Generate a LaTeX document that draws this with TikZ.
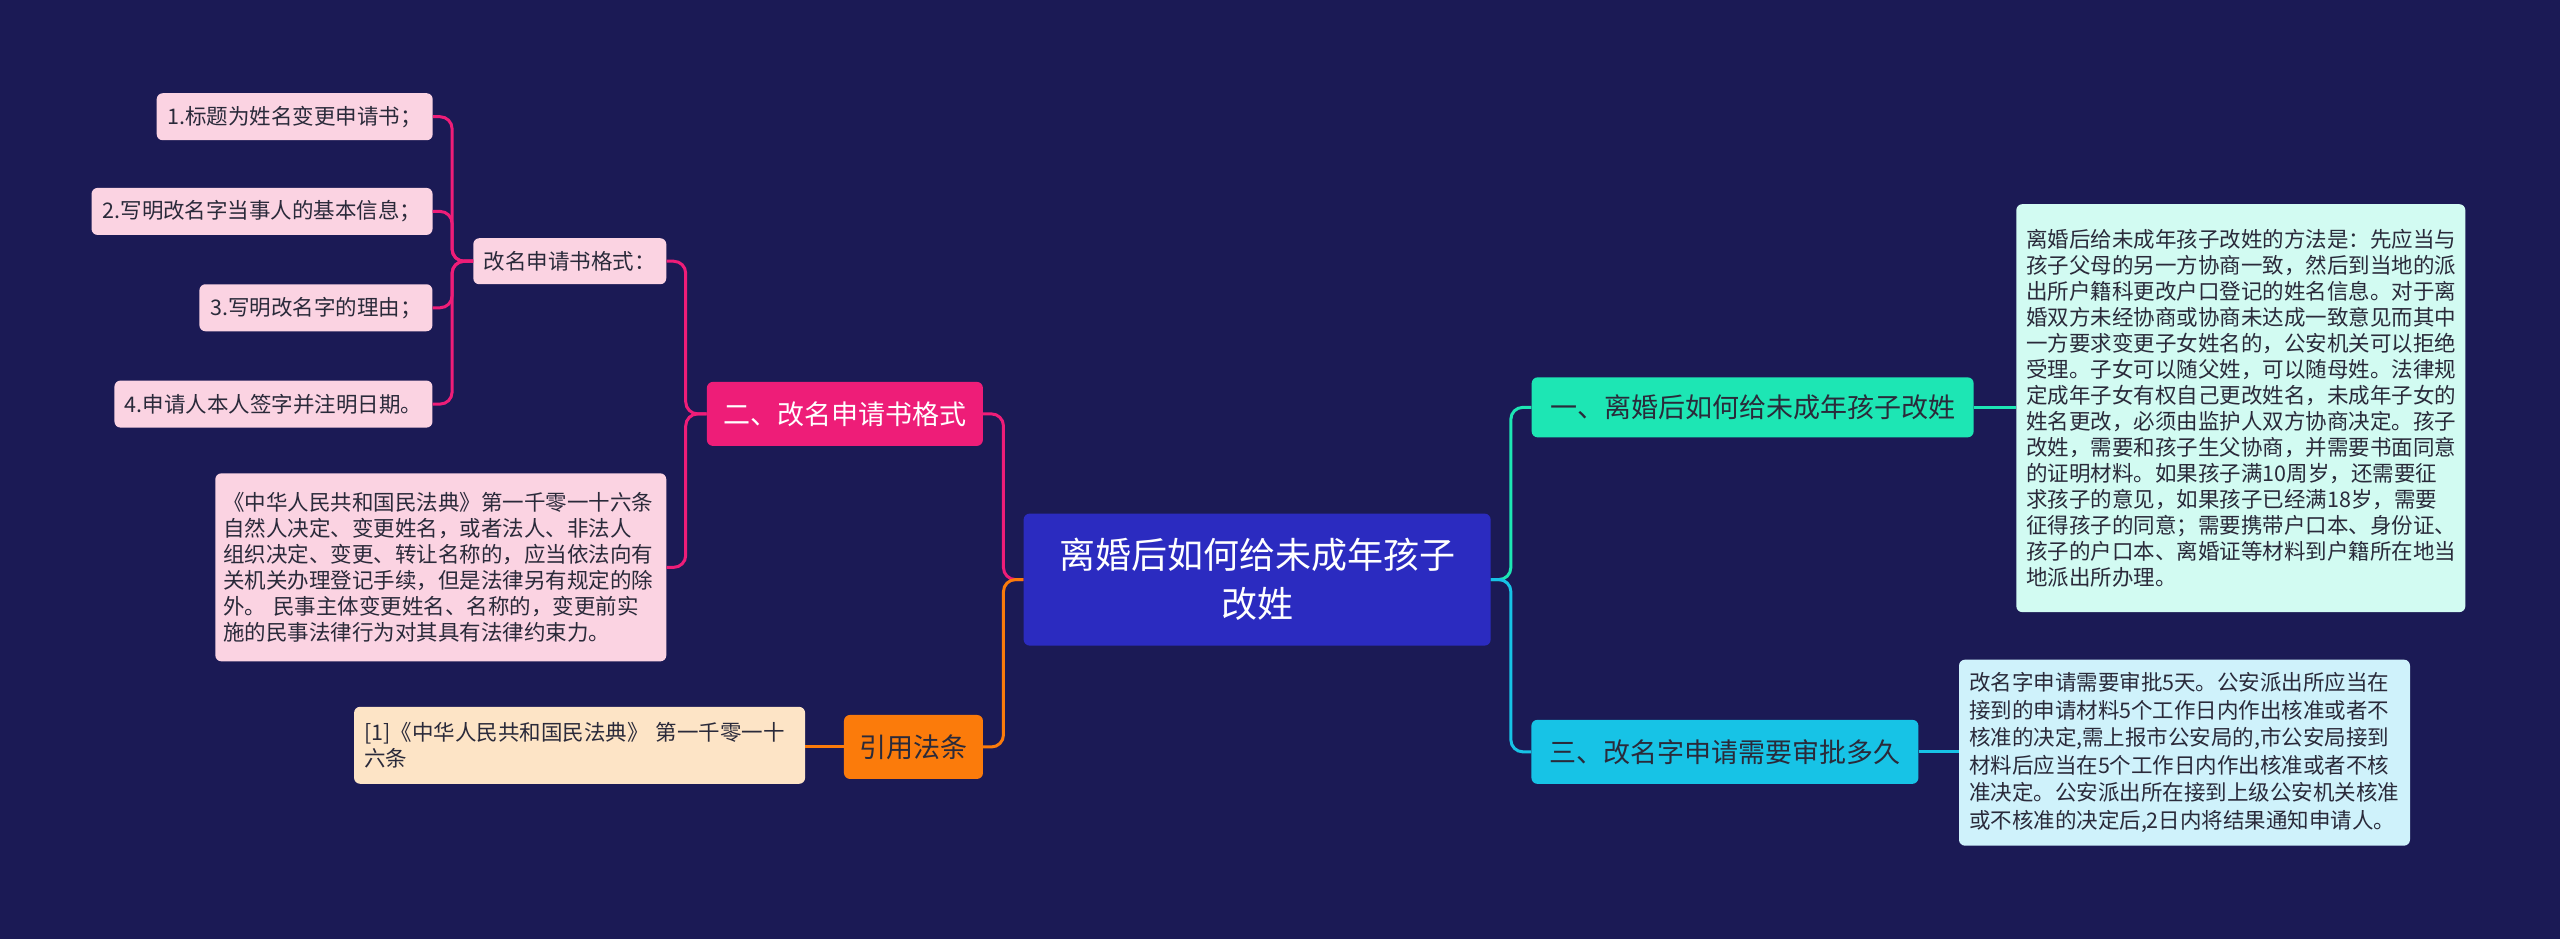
\documentclass[tikz,border=0pt]{standalone}
\usepackage{fontspec}
\setmainfont{Noto Sans CJK SC}
\definecolor{bgcol}{HTML}{1B1A55}
\definecolor{rootcol}{HTML}{2B2BC0}
\definecolor{tealcol}{HTML}{1DE6B4}
\definecolor{cyancol}{HTML}{17C3E6}
\definecolor{pinkcol}{HTML}{EE1D78}
\definecolor{orangecol}{HTML}{FB7B0B}
\definecolor{tealleaf}{HTML}{D2FBF2}
\definecolor{cyanleaf}{HTML}{CFF2FB}
\definecolor{pinkleaf}{HTML}{FBD3E2}
\definecolor{orangeleaf}{HTML}{FDE4C6}
\definecolor{inkcol}{HTML}{2A2A3A}
\tikzset{
  box/.style = {rounded corners=6pt, inner sep=0pt, align=center},
  leaf/.style = {box, text=inkcol, font=\fontsize{21.5}{26}\selectfont},
  branch/.style = {box, font=\fontsize{27}{32}\selectfont},
  link/.style = {line width=3pt, rounded corners=12pt},
}
\begin{document}
\begin{tikzpicture}[x=1.6327pt,y=-1.6327pt]
\fill[bgcol] (0,0) rectangle (1568,575);
% root
\node[box, fill=rootcol, text=white, minimum width=467pt, minimum height=132pt,
  font=\fontsize{36}{49}\selectfont] (root) at (770,355) {离婚后如何给未成年孩子\\改姓};
% right side
\node[branch, fill=tealcol, text=inkcol, minimum width=442pt, minimum height=60pt] (b1) at (1073.5,249.5) {一、离婚后如何给未成年孩子改姓};
\node[leaf, fill=tealleaf, minimum width=449pt, minimum height=408pt, text width=429pt, align=left] (t1) at (1372.5,250) {离婚后给未成年孩子改姓的方法是：先应当与\\孩子父母的另一方协商一致，然后到当地的派\\出所户籍科更改户口登记的姓名信息。对于离\\婚双方未经协商或协商未达成一致意见而其中\\一方要求变更子女姓名的，公安机关可以拒绝\\受理。子女可以随父姓，可以随母姓。法律规\\定成年子女有权自己更改姓名，未成年子女的\\姓名更改，必须由监护人双方协商决定。孩子\\改姓，需要和孩子生父协商，并需要书面同意\\的证明材料。如果孩子满10周岁，还需要征\\求孩子的意见，如果孩子已经满18岁，需要\\征得孩子的同意；需要携带户口本、身份证、\\孩子的户口本、离婚证等材料到户籍所在地当\\地派出所办理。};
\node[branch, fill=cyancol, text=inkcol, minimum width=387pt, minimum height=64pt] (b3) at (1056.5,460.5) {三、改名字申请需要审批多久};
\node[leaf, fill=cyanleaf, minimum width=451pt, minimum height=186pt, text width=431pt, align=left,
  font=\fontsize{21.5}{27.5}\selectfont] (t3) at (1338,461) {改名字申请需要审批5天。公安派出所应当在\\接到的申请材料5个工作日内作出核准或者不\\核准的决定,需上报市公安局的,市公安局接到\\材料后应当在5个工作日内作出核准或者不核\\准决定。公安派出所在接到上级公安机关核准\\或不核准的决定后,2日内将结果通知申请人。};
% left side
\node[branch, fill=pinkcol, text=white, minimum width=276pt, minimum height=64pt] (b2) at (517.5,253.5) {二、改名申请书格式};
\node[leaf, fill=pinkleaf, minimum width=193pt, minimum height=46pt] (fmt) at (349,160) {改名申请书格式：};
\node[leaf, fill=pinkleaf, minimum width=276pt, minimum height=47pt] (f1) at (180.5,71.5) {1.标题为姓名变更申请书；};
\node[leaf, fill=pinkleaf, minimum width=341pt, minimum height=47pt] (f2) at (160.5,129.5) {2.写明改名字当事人的基本信息；};
\node[leaf, fill=pinkleaf, minimum width=233pt, minimum height=47pt] (f3) at (193.5,188.5) {3.写明改名字的理由；};
\node[leaf, fill=pinkleaf, minimum width=318pt, minimum height=47pt] (f4) at (167.5,247.5) {4.申请人本人签字并注明日期。};
\node[leaf, fill=pinkleaf, minimum width=451pt, minimum height=188pt, text width=435pt, align=left] (law) at (270,347.5) {《中华人民共和国民法典》第一千零一十六条\\ 自然人决定、变更姓名，或者法人、非法人\\组织决定、变更、转让名称的，应当依法向有\\关机关办理登记手续，但是法律另有规定的除\\外。 民事主体变更姓名、名称的，变更前实\\施的民事法律行为对其具有法律约束力。};
\node[branch, fill=orangecol, text=inkcol, minimum width=139pt, minimum height=64pt] (cite) at (559.5,457.5) {引用法条};
\node[leaf, fill=orangeleaf, minimum width=451pt, minimum height=77pt, text width=431pt, align=left] (ref) at (355,456.5) {[1]《中华人民共和国民法典》 第一千零一十\\六条};
% links
\draw[link, tealcol] (root.east) -- ++(20pt,0) |- (b1.west);
\draw[link, cyancol] (root.east) -- ++(20pt,0) |- (b3.west);
\draw[link, tealcol] (b1.east) -- (t1.west |- b1.east);
\draw[link, cyancol] (b3.east) -- (t3.west |- b3.east);
\draw[link, pinkcol] (root.west) -- ++(-20pt,0) |- (b2.east);
\draw[link, orangecol] (root.west) -- ++(-20pt,0) |- (cite.east);
\draw[link, orangecol] (cite.west) -- (ref.east |- cite.west);
\draw[link, pinkcol] (b2.west) -- ++(-21pt,0) |- (fmt.east);
\draw[link, pinkcol] (b2.west) -- ++(-21pt,0) |- (law.east);
\foreach \f in {f1,f2,f3,f4}
  \draw[link, pinkcol] (fmt.west) -- ++(-21pt,0) |- (\f.east);
\end{tikzpicture}
\end{document}
